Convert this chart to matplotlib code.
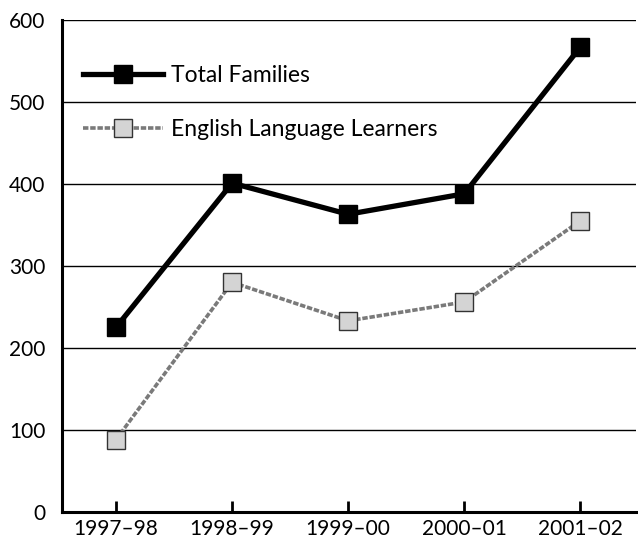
import matplotlib.pyplot as plt
import numpy as np

# Values
years = ["1997\u201398", "1998\u201399", "1999\u201300", "2000\u201301", "2001\u201302"]
total_families = [225, 401, 363, 388, 567]
ell_families = [88, 280, 233, 256, 355]
y_ticks = [0, 100, 200, 300, 400, 500, 600]

plt.rcParams['font.family'] = ['Lato', 'DejaVu Sans']

fig = plt.figure(figsize=(6.38, 5.41), dpi=100)
ax = fig.add_axes([0.097, 0.054, 0.9, 0.909])

x = np.arange(len(years))

# horizontal gridlines
for v in y_ticks[1:]:
    ax.axhline(v, color='black', linewidth=1.0, zorder=1)

ax.plot(x, total_families, color='black', linewidth=3.8, marker='s',
        markersize=13, markerfacecolor='black', markeredgecolor='black',
        label='Total Families', zorder=3)
ax.plot(x, ell_families, color='#7a7a7a', linewidth=2.6, linestyle=(0, (1.5, 0.5)),
        marker='s', markersize=13, markerfacecolor='#d4d4d4',
        markeredgecolor='#333333', markeredgewidth=1.0,
        label='English Language Learners', zorder=3)

ax.set_xlim(-0.466, 4.48)
ax.set_ylim(0, 600)
ax.set_xticks(x)
ax.set_xticklabels(years)
ax.set_yticks(y_ticks)

ax.spines['top'].set_visible(False)
ax.spines['right'].set_visible(False)
ax.spines['left'].set_linewidth(2.2)
ax.spines['bottom'].set_linewidth(2.2)

ax.tick_params(axis='x', direction='in', length=8, width=2, labelsize=15, pad=5)
ax.tick_params(axis='y', length=0, labelsize=15, pad=12)

ax.legend(loc='upper left', bbox_to_anchor=(0.0, 0.95), frameon=False,
          fontsize=16.5, handlelength=3.5, labelspacing=1.45, handletextpad=0.35)

fig.savefig('out.png', dpi=100)
